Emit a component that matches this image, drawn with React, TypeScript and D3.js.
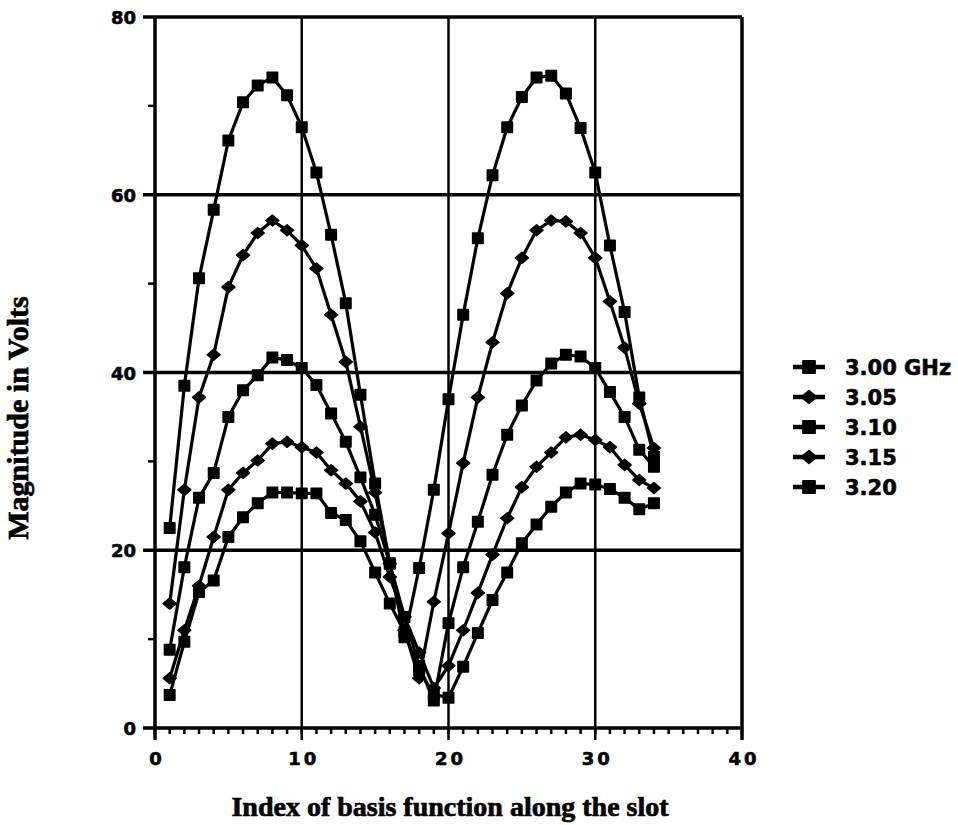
import React from 'react';
import * as d3 from 'd3';

// index of the basis function along the slot
const basisIndex = [
  1, 2, 3, 4, 5, 6, 7, 8, 9, 10, 11, 12, 13, 14, 15, 16, 17,
  18, 19, 20, 21, 22, 23, 24, 25, 26, 27, 28, 29, 30, 31, 32, 33, 34,
];

// magnitude in volts
const ghz300 = [
  22.5, 38.5, 50.6, 58.3, 66.1, 70.4, 72.3, 73.2, 71.2, 67.6, 62.5, 55.5, 47.8, 37.5, 27.5, 18.5, 10.2,
  18.0, 26.8, 37.0, 46.5, 55.1, 62.2, 67.6, 71.0, 73.2, 73.4, 71.4, 67.5, 62.5, 54.3, 46.8, 37.2, 30.5,
];
const ghz305 = [
  14.0, 26.8, 37.2, 42.0, 49.6, 53.2, 55.7, 57.1, 56.0, 54.3, 51.7, 46.5, 41.2, 33.9, 26.5, 18.5, 11.0,
  5.6, 14.2, 21.9, 29.8, 37.2, 43.4, 48.9, 52.9, 56.0, 57.1, 57.0, 55.7, 52.9, 48.0, 42.8, 36.5, 31.5,
];
const ghz310 = [
  8.8, 18.1, 25.9, 28.7, 35.0, 38.0, 39.7, 41.7, 41.4, 40.5, 38.6, 35.4, 32.2, 28.2, 24.0, 18.5, 12.5,
  7.0, 3.1, 11.8, 18.1, 23.2, 28.5, 33.0, 36.3, 39.1, 41.0, 42.0, 41.8, 40.5, 37.8, 35.0, 31.3, 29.4,
];
const ghz315 = [
  5.6, 11.0, 16.0, 21.5, 26.8, 28.7, 30.1, 32.0, 32.2, 31.6, 31.0, 29.0, 27.5, 25.5, 22.0, 17.0, 12.5,
  8.5, 4.5, 7.0, 11.0, 15.2, 19.5, 23.6, 27.1, 29.4, 31.0, 32.7, 33.0, 32.4, 31.6, 29.6, 27.9, 27.0,
];
const ghz320 = [
  3.7, 9.7, 15.3, 16.6, 21.5, 23.7, 25.3, 26.5, 26.5, 26.4, 26.4, 24.2, 23.4, 21.0, 17.5, 14.0, 10.8,
  6.5, 3.8, 3.4, 6.9, 10.7, 14.4, 17.5, 20.8, 22.9, 24.9, 26.5, 27.5, 27.4, 26.9, 25.9, 24.6, 25.3,
];

const seriesLabels = ['3.00 GHz', '3.05', '3.10', '3.15', '3.20'];
const seriesMarkers = ['square', 'diamond', 'square', 'diamond', 'square'];
const seriesValues = [ghz300, ghz305, ghz310, ghz315, ghz320];

const xTickValues = [0, 10, 20, 30, 40];
const yTickValues = [0, 20, 40, 60, 80];

const W = 958;
const H = 825;
const left = 155;
const right = 742;
const top = 17;
const bottom = 728;

const squarePath = d3.symbol(d3.symbolSquare, 110)() as string;
const diamondPath = 'M0,-5.5L6.5,0L0,5.5L-6.5,0Z';

function Marker({ kind, cx, cy, scale = 1 }: { kind: string; cx: number; cy: number; scale?: number }) {
  return (
    <path
      d={kind === 'square' ? squarePath : diamondPath}
      transform={`translate(${cx},${cy}) scale(${scale})`}
      fill="#000"
      stroke="#000"
      strokeWidth={1.5}
      strokeLinejoin="round"
    />
  );
}

export default function App() {
  const x = d3.scaleLinear().domain([0, 40]).range([left, right]);
  const y = d3.scaleLinear().domain([0, 80]).range([bottom, top]);

  const line = d3
    .line<number>()
    .x((_, i) => x(basisIndex[i]))
    .y((d) => y(d));

  const xMinor = d3.range(0, 41, 1);
  const yMinor = d3.range(10, 80, 20);

  const tickFont = {
    fontFamily: 'DejaVu Sans',
    fontWeight: 'bold' as const,
    fontSize: 18,
    stroke: '#000',
    strokeWidth: 0.6,
  };
  const titleFont = {
    fontFamily: 'Liberation Serif',
    fontWeight: 'bold' as const,
    fontSize: 28,
    stroke: '#000',
    strokeWidth: 0.7,
  };

  return (
    <svg
      width={W}
      height={H}
      style={{ position: 'absolute', left: 0, top: 0, background: '#fff' }}
    >
      {/* grid and frame */}
      {yTickValues.map((v) => (
        <line key={'gy' + v} x1={left - 12} x2={right} y1={y(v)} y2={y(v)} stroke="#000" strokeWidth={3.5} />
      ))}
      {xTickValues.map((v) => (
        <line
          key={'gx' + v}
          x1={x(v)}
          x2={x(v)}
          y1={top}
          y2={bottom + 12}
          stroke="#000"
          strokeWidth={v === 0 || v === 40 ? 3.5 : 2.5}
        />
      ))}
      {xMinor.map((v) => (
        <line key={'mx' + v} x1={x(v)} x2={x(v)} y1={bottom} y2={bottom + 6} stroke="#000" strokeWidth={2.5} />
      ))}
      {yMinor.map((v) => (
        <line key={'my' + v} x1={left - 7} x2={left} y1={y(v)} y2={y(v)} stroke="#000" strokeWidth={2.5} />
      ))}

      {/* tick labels */}
      {yTickValues.map((v) => (
        <text key={'ty' + v} x={136} y={y(v) + 7} textAnchor="end" {...tickFont}>
          {v}
        </text>
      ))}
      {xTickValues.map((v) => (
        <text key={'tx' + v} x={x(v) + 2} y={765} textAnchor="middle" letterSpacing={3} {...tickFont}>
          {v}
        </text>
      ))}

      {/* series */}
      {seriesValues.map((vals, s) => (
        <g key={'s' + s}>
          <path d={line(vals) as string} fill="none" stroke="#000" strokeWidth={3.2} strokeLinejoin="round" />
          {vals.map((v, i) => (
            <Marker key={i} kind={seriesMarkers[s]} cx={x(basisIndex[i])} cy={y(v)} />
          ))}
        </g>
      ))}

      {/* legend */}
      {seriesLabels.map((label, i) => {
        const cy = 367 + i * 30;
        return (
          <g key={'lg' + i}>
            <line x1={793} x2={825} y1={cy} y2={cy} stroke="#000" strokeWidth={4.5} />
            <Marker kind={seriesMarkers[i]} cx={809} cy={cy} scale={1.15} />
            <text
              x={845}
              y={cy + 7.5}
              fontFamily="DejaVu Sans"
              fontWeight="bold"
              fontSize={21}
              stroke="#000"
              strokeWidth={0.6}
            >
              {label}
            </text>
          </g>
        );
      })}

      {/* axis titles */}
      <text x={450} y={816} textAnchor="middle" {...titleFont}>
        Index of basis function along the slot
      </text>
      <text transform={`translate(28,418) rotate(-90)`} textAnchor="middle" {...titleFont} fontSize={30}>
        Magnitude in Volts
      </text>
    </svg>
  );
}
